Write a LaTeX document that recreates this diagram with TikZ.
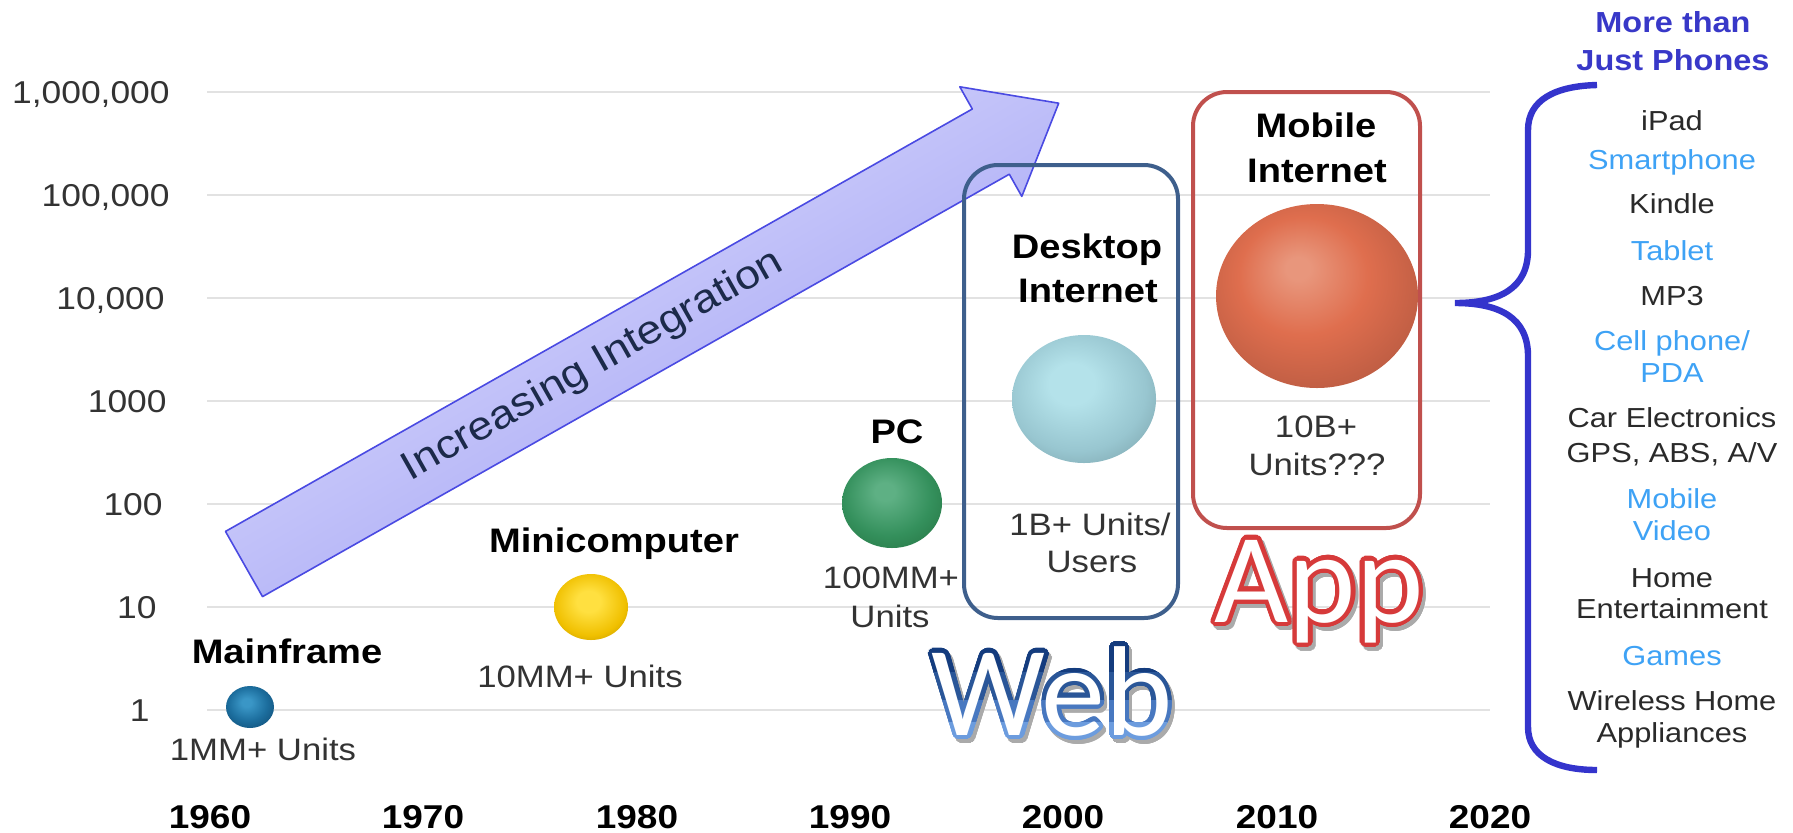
\documentclass[tikz,border=0pt]{standalone}
\usepackage{fontspec}
\setmainfont{Liberation Sans}[FakeStretch=1.12]
\newfontfamily\webfont{Carlito}
\usepackage{contour}
\contournumber{32}
\definecolor{gridgray}{HTML}{E2E2E2}
\definecolor{txtgray}{HTML}{333333}
\definecolor{itemgray}{HTML}{2A2A2A}
\definecolor{itemblue}{HTML}{3EA2F5}
\definecolor{headblue}{HTML}{3838C8}
\definecolor{bracecol}{HTML}{3434CC}
\definecolor{navytxt}{HTML}{1C2A4A}
\definecolor{arrowline}{HTML}{4A4AE2}
\definecolor{arrowlight}{HTML}{E2E2FF}
\definecolor{arrowdark}{HTML}{9A9AF2}
\definecolor{deskbox}{HTML}{3E5F8C}
\definecolor{mobbox}{HTML}{C0504D}
\definecolor{webA}{HTML}{143C7E}
\definecolor{webB}{HTML}{2A5698}
\definecolor{webC}{HTML}{4878C0}
\definecolor{webD}{HTML}{6C9CDE}
\definecolor{appred}{HTML}{D63A3A}
\definecolor{shadowgray}{HTML}{AAAAAA}
% ball colours
\definecolor{mfA}{HTML}{3A96C6}\definecolor{mfB}{HTML}{1C6E9E}\definecolor{mfC}{HTML}{0E4870}\definecolor{mfD}{HTML}{0A3A5C}
\definecolor{mcA}{HTML}{FFE040}\definecolor{mcB}{HTML}{F0C000}\definecolor{mcC}{HTML}{B88E00}\definecolor{mcD}{HTML}{9C7800}
\definecolor{pcA}{HTML}{5EB084}\definecolor{pcB}{HTML}{34905C}\definecolor{pcC}{HTML}{23703F}\definecolor{pcD}{HTML}{1C5C34}
\definecolor{dkA}{HTML}{B4E2EA}\definecolor{dkB}{HTML}{98C6D0}\definecolor{dkC}{HTML}{749AA2}\definecolor{dkD}{HTML}{62848C}
\definecolor{mbA}{HTML}{E8967C}\definecolor{mbB}{HTML}{DF6E4E}\definecolor{mbC}{HTML}{B45840}\definecolor{mbD}{HTML}{964434}
\pgfdeclareradialshading{shMF}{\pgfpoint{-4bp}{6bp}}{color(0bp)=(mfA); color(5bp)=(mfA); color(20bp)=(mfB); color(36bp)=(mfC); color(46bp)=(mfD); color(50bp)=(mfD)}
\pgfdeclareradialshading{shMC}{\pgfpoint{-2bp}{5bp}}{color(0bp)=(mcA); color(8bp)=(mcA); color(24bp)=(mcB); color(36bp)=(mcC); color(46bp)=(mcD); color(50bp)=(mcD)}
\pgfdeclareradialshading{shPC}{\pgfpoint{-4bp}{7bp}}{color(0bp)=(pcA); color(5bp)=(pcA); color(22bp)=(pcB); color(38bp)=(pcC); color(47bp)=(pcD); color(50bp)=(pcD)}
\pgfdeclareradialshading{shDK}{\pgfpoint{-5bp}{7bp}}{color(0bp)=(dkA); color(8bp)=(dkA); color(24bp)=(dkB); color(38bp)=(dkC); color(47bp)=(dkD); color(50bp)=(dkD)}
\pgfdeclareradialshading{shMB}{\pgfpoint{-5bp}{8bp}}{color(0bp)=(mbA); color(3bp)=(mbA); color(16bp)=(mbB); color(34bp)=(mbC); color(47bp)=(mbD); color(50bp)=(mbD)}
\tikzset{
  gridln/.style={gridgray, line width=1pt},
  ylab/.style={anchor=base east, inner sep=0pt, text=txtgray, font=\fontsize{15.8}{18}\selectfont},
  boldlab/.style={anchor=base, inner sep=0pt, text=black, font=\bfseries\fontsize{17}{20}\selectfont},
  unitlab/.style={anchor=base, inner sep=0pt, text=txtgray, font=\fontsize{15.5}{18}\selectfont},
  yearlab/.style={anchor=base, inner sep=0pt, text=black, font=\bfseries\fontsize{16.5}{20}\selectfont},
  headlab/.style={anchor=base, inner sep=0pt, text=headblue, font=\bfseries\fontsize{14.5}{17}\selectfont},
  itemk/.style={anchor=base, inner sep=0pt, text=itemgray, font=\fontsize{13.75}{16}\selectfont},
  itemb/.style={itemk, text=itemblue},
  bigword/.style={anchor=base, inner sep=0pt, text=white, font=\webfont\fontsize{64}{70}\selectfont},
  roundbox/.style={line width=2pt, rounded corners=17pt},
}
\begin{document}
\begin{tikzpicture}[x=0.5pt,y=-0.5pt]
\useasboundingbox (0,0) rectangle (1793,832);
% grid lines
\draw[gridln] (207,92) -- (1490,92);
\draw[gridln] (207,195) -- (1490,195);
\draw[gridln] (207,298) -- (1490,298);
\draw[gridln] (207,401) -- (1490,401);
\draw[gridln] (207,504) -- (1490,504);
\draw[gridln] (207,607) -- (1490,607);
\draw[gridln] (207,710) -- (1490,710);
% y labels
\node[ylab] (y6) at (170,103) {1,000,000};
\node[ylab] (y5) at (170,206) {100,000};
\node[ylab] (y4) at (165,309) {10,000};
\node[ylab] (y3) at (167,412) {1000};
\node[ylab] (y2) at (163,515) {100};
\node[ylab] (y1) at (157,618) {10};
\node[ylab] (y0) at (150,721) {1};
% years
\node[yearlab] (t1960) at (210,828) {1960};
\node[yearlab] (t1970) at (423,828) {1970};
\node[yearlab] (t1980) at (637,828) {1980};
\node[yearlab] (t1990) at (850,828) {1990};
\node[yearlab] (t2000) at (1063,828) {2000};
\node[yearlab] (t2010) at (1277,828) {2010};
\node[yearlab] (t2020) at (1490,828) {2020};
% arrow
\coordinate (atl) at (225.5,531.4);
\coordinate (atb) at (262.5,596.6);
\coordinate (ant) at (972.3,109);
\coordinate (anb) at (1009.3,174.2);
\coordinate (abt) at (959.8,86.8);
\coordinate (abb) at (1021.8,196.4);
\coordinate (atip) at (1058.7,103.2);
\path[draw=arrowline, line width=0.8pt, line join=round, top color=arrowlight, bottom color=arrowdark, shading angle=30]
  (atl) -- (ant) -- (abt) -- (atip) -- (abb) -- (anb) -- (atb) -- cycle;
\node[rotate=29.5, inner sep=0pt, text=navytxt, font=\fontsize{20}{24}\selectfont] (integ) at (593,366) {Increasing Integration};
% boxes
\draw[roundbox, deskbox] (964,165) rectangle (1178,618);
\draw[roundbox, mobbox] (1193,92) rectangle (1420,528);
% balls
\shade[shading=shMF] (250,707) ellipse [x radius=24, y radius=21];
\shade[shading=shMC] (591,607) ellipse [x radius=37, y radius=33];
\shade[shading=shPC] (892,503) ellipse [x radius=50, y radius=45];
\shade[shading=shDK] (1084,399) ellipse [x radius=72, y radius=64];
\shade[shading=shMB] (1317,296) ellipse [x radius=101, y radius=92];
% labels
\node[boldlab] (mainframe) at (287,663) {Mainframe};
\node[unitlab] (mfunits) at (263,760) {1MM+ Units};
\node[boldlab] (minicomp) at (614,552) {Minicomputer};
\node[unitlab] (mcunits) at (580,687) {10MM+ Units};
\node[boldlab] (pc) at (897,443) {PC};
\node[unitlab] (pcunits1) at (891,588) {100MM+};
\node[unitlab] (pcunits2) at (890,627) {Units};
\node[boldlab] (desk1) at (1087,258) {Desktop};
\node[boldlab] (desk2) at (1088,302) {Internet};
\node[unitlab] (dkunits1) at (1090,535) {1B+ Units/};
\node[unitlab] (dkunits2) at (1092,572) {Users};
\node[boldlab] (mob1) at (1316,137) {Mobile};
\node[boldlab] (mob2) at (1317,182) {Internet};
\node[unitlab] (mbunits1) at (1316,437) {10B+};
\node[unitlab] (mbunits2) at (1317,475) {Units???};
% Web / App words
\contourlength{2.1pt}
\node[bigword, text=shadowgray] (webshadow) at (1055,739) {\contour{shadowgray}{Web}};
\begin{scope}
\clip (900,600) rectangle (1250,672);
\node[bigword] (webtop) at (1052,735) {\contour{webA}{Web}};
\end{scope}
\begin{scope}
\clip (900,672) rectangle (1250,700);
\node[bigword] (webupper) at (1052,735) {\contour{webB}{Web}};
\end{scope}
\begin{scope}
\clip (900,700) rectangle (1250,722);
\node[bigword] (weblower) at (1052,735) {\contour{webC}{Web}};
\end{scope}
\begin{scope}
\clip (900,722) rectangle (1250,780);
\node[bigword] (webbottom) at (1052,735) {\contour{webD}{Web}};
\end{scope}
\node[bigword, text=shadowgray] (appshadow) at (1322,626) {\contour{shadowgray}{App}};
\node[bigword] (app) at (1319,622) {\contour{appred}{App}};
% brace
\coordinate (brtop) at (1597,85);
\coordinate (brtip) at (1455,303);
\coordinate (brbot) at (1597,770);
\draw[bracecol, line width=3.2pt] (brtop) .. controls (1555,86) and (1528,100) .. (1528,130) -- (1528,250)
  .. controls (1528,288) and (1500,303) .. (brtip)
  .. controls (1500,303) and (1528,318) .. (1528,356) -- (1528,727)
  .. controls (1528,756) and (1555,770) .. (brbot);
% right column
\node[headlab] (head1) at (1673,32) {More than};
\node[headlab] (head2) at (1673,70) {Just Phones};
\node[itemk] (ipad) at (1672,130) {iPad};
\node[itemb] (smart) at (1672,169) {Smartphone};
\node[itemk] (kindle) at (1672,213) {Kindle};
\node[itemb] (tablet) at (1672,260) {Tablet};
\node[itemk] (mp3) at (1672,305) {MP3};
\node[itemb] (cell1) at (1672,350) {Cell phone/};
\node[itemb] (cell2) at (1672,382) {PDA};
\node[itemk] (car1) at (1672,427) {Car Electronics};
\node[itemk] (car2) at (1672,462) {GPS, ABS, A/V};
\node[itemb] (mv1) at (1672,508) {Mobile};
\node[itemb] (mv2) at (1672,540) {Video};
\node[itemk] (home1) at (1672,587) {Home};
\node[itemk] (home2) at (1672,618) {Entertainment};
\node[itemb] (games) at (1672,665) {Games};
\node[itemk] (wh1) at (1672,710) {Wireless Home};
\node[itemk] (wh2) at (1672,742) {Appliances};
\end{tikzpicture}
\end{document}
